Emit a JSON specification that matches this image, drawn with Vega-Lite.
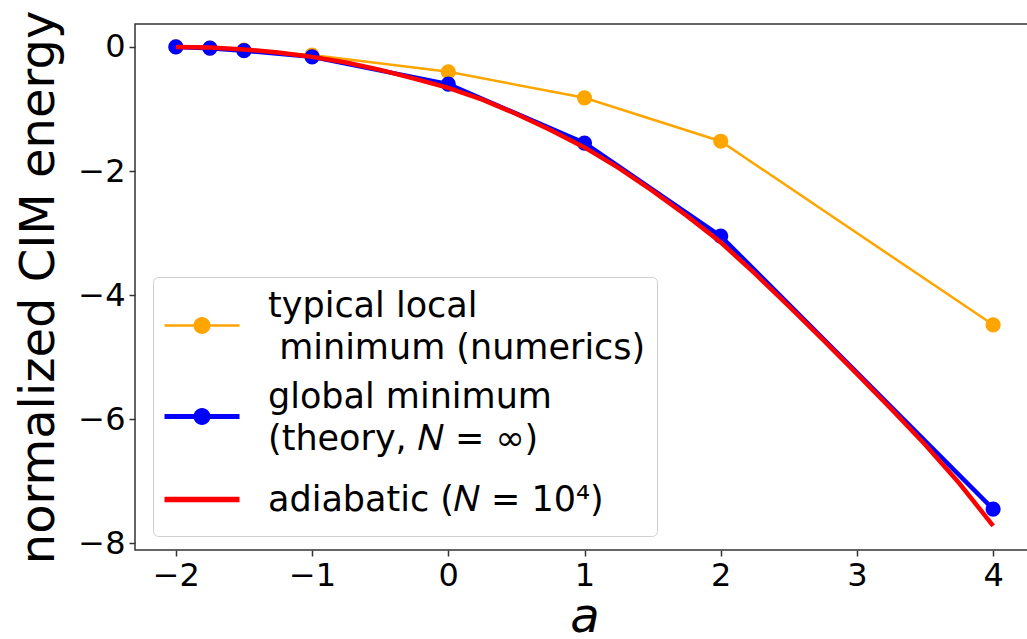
{
  "$schema": "https://vega.github.io/schema/vega-lite/v6.json",
  "width": 899,
  "height": 526,
  "autosize": {"type": "none"},
  "padding": {"left": 135, "top": 24, "right": 0, "bottom": 89},
  "background": "white",
  "config": {
    "font": "DejaVu Sans",
    "view": {"stroke": "#333", "strokeWidth": 1.5},
    "axis": {
      "domain": false, "grid": false,
      "tickColor": "#333", "tickWidth": 1.5, "tickSize": 6,
      "labelFont": "DejaVu Sans", "labelFontSize": 32, "labelColor": "black", "labelPadding": 4,
      "titleFont": "DejaVu Sans", "titleFontWeight": "normal", "titleColor": "black"
    }
  },
  "datasets": {
    "pts": [
      {"series": "local", "a": -2, "E": 0},
      {"series": "local", "a": -1.75, "E": -0.02},
      {"series": "local", "a": -1.5, "E": -0.05},
      {"series": "local", "a": -1, "E": -0.13},
      {"series": "local", "a": 0, "E": -0.4},
      {"series": "local", "a": 1, "E": -0.82},
      {"series": "local", "a": 2, "E": -1.52},
      {"series": "local", "a": 4, "E": -4.48},
      {"series": "global", "a": -2, "E": 0},
      {"series": "global", "a": -1.75, "E": -0.02},
      {"series": "global", "a": -1.5, "E": -0.06},
      {"series": "global", "a": -1, "E": -0.16},
      {"series": "global", "a": 0, "E": -0.6},
      {"series": "global", "a": 1, "E": -1.55},
      {"series": "global", "a": 2, "E": -3.05},
      {"series": "global", "a": 4, "E": -7.45}
    ],
    "curve": [
      {"series": "adiabatic", "a": -2, "E": 0},
      {"series": "adiabatic", "a": -1.75, "E": -0.01},
      {"series": "adiabatic", "a": -1.5, "E": -0.04},
      {"series": "adiabatic", "a": -1.25, "E": -0.09},
      {"series": "adiabatic", "a": -1, "E": -0.16},
      {"series": "adiabatic", "a": -0.75, "E": -0.25},
      {"series": "adiabatic", "a": -0.5, "E": -0.37},
      {"series": "adiabatic", "a": -0.25, "E": -0.51},
      {"series": "adiabatic", "a": 0, "E": -0.66},
      {"series": "adiabatic", "a": 0.25, "E": -0.85},
      {"series": "adiabatic", "a": 0.5, "E": -1.08},
      {"series": "adiabatic", "a": 0.75, "E": -1.34},
      {"series": "adiabatic", "a": 1, "E": -1.62},
      {"series": "adiabatic", "a": 1.25, "E": -1.95},
      {"series": "adiabatic", "a": 1.5, "E": -2.32},
      {"series": "adiabatic", "a": 1.75, "E": -2.72},
      {"series": "adiabatic", "a": 2, "E": -3.15},
      {"series": "adiabatic", "a": 2.25, "E": -3.65},
      {"series": "adiabatic", "a": 2.5, "E": -4.18},
      {"series": "adiabatic", "a": 2.75, "E": -4.72},
      {"series": "adiabatic", "a": 3, "E": -5.27},
      {"series": "adiabatic", "a": 3.25, "E": -5.83},
      {"series": "adiabatic", "a": 3.5, "E": -6.41},
      {"series": "adiabatic", "a": 3.75, "E": -7.03},
      {"series": "adiabatic", "a": 4, "E": -7.72}
    ]
  },
  "encoding": {
    "x": {
      "field": "a", "type": "quantitative",
      "scale": {"domain": [-2.3, 4.3], "nice": false, "zero": false},
      "axis": {"values": [-2, -1, 0, 1, 2, 3, 4], "title": "a", "titleFontStyle": "italic", "titleFontSize": 48, "titlePadding": 2}
    },
    "y": {
      "field": "E", "type": "quantitative",
      "scale": {"domain": [-8.11, 0.37], "nice": false, "zero": false},
      "axis": {"values": [-8, -6, -4, -2, 0], "title": "normalized CIM energy", "titleFontSize": 48, "titlePadding": 14}
    }
  },
  "layer": [
    {
      "data": {"name": "pts"},
      "transform": [{"filter": "datum.series == 'local'"}],
      "mark": {"type": "line", "color": "#ffa500", "strokeWidth": 2.5},
      "encoding": {}
    },
    {
      "data": {"name": "pts"},
      "transform": [{"filter": "datum.series == 'local'"}],
      "mark": {"type": "point", "filled": true, "color": "#ffa500", "size": 230, "opacity": 1},
      "encoding": {}
    },
    {
      "data": {"name": "pts"},
      "transform": [{"filter": "datum.series == 'global'"}],
      "mark": {"type": "line", "color": "#0000ff", "strokeWidth": 4.5},
      "encoding": {}
    },
    {
      "data": {"name": "pts"},
      "transform": [{"filter": "datum.series == 'global'"}],
      "mark": {"type": "point", "filled": true, "color": "#0000ff", "size": 230, "opacity": 1},
      "encoding": {}
    },
    {
      "data": {"name": "curve"},
      "mark": {"type": "line", "strokeWidth": 4.5},
      "encoding": {
        "color": {
          "field": "series", "type": "nominal",
          "scale": {"domain": ["local", "global", "adiabatic"], "range": ["#ffa500", "#0000ff", "#ff0000"]},
          "legend": {
            "orient": "none", "legendX": 18, "legendY": 253,
            "title": null, "padding": 11,
            "strokeColor": "#d0d0d0", "fillColor": "rgba(255,255,255,0.8)", "cornerRadius": 5,
            "labelFont": "DejaVu Sans", "labelFontSize": 35, "labelColor": "black", "labelLimit": 0,
            "symbolSize": 400, "labelOffset": 69, "rowPadding": 13,
            "labelExpr": "datum.value == 'local' ? ['typical local', '\u200b\u00a0minimum (numerics)'] : datum.value == 'global' ? ['global minimum', '(theory, 𝑁 = ∞)'] : 'adiabatic (𝑁 = 10⁴)'",
            "encode": {
              "symbols": {
                "update": {
                  "shape": {"signal": "datum.value == 'local' ? 'M-1.7,1.87H5.8V2.13H-1.7Z M2.9,2A0.85,0.85 0 1 1 1.2,2A0.85,0.85 0 1 1 2.9,2Z' : datum.value == 'global' ? 'M-1.7,1.75H5.8V2.25H-1.7Z M2.9,2A0.85,0.85 0 1 1 1.2,2A0.85,0.85 0 1 1 2.9,2Z' : 'M-1.7,-0.28H5.8V0.28H-1.7Z M0,-2.95L0.01,-2.95Z M0,2.5L0.01,2.5Z'"},
                  "fill": {"signal": "scale('color', datum.value)"},
                  "stroke": {"value": "transparent"},
                  "strokeWidth": {"value": 0},
                  "opacity": {"value": 1}
                }
              },
              "labels": {
                "update": {
                  "lineHeight": {"value": 42}
                }
              }
            }
          }
        }
      }
    }
  ]
}
